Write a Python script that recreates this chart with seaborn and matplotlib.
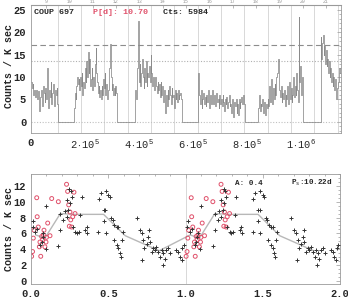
import matplotlib
matplotlib.use('Agg')
import numpy as np
import pandas as pd
import seaborn as sns
import matplotlib.pyplot as plt
from matplotlib.ticker import MultipleLocator

# Curva de luz: segmentos de observação (tempo em s, taxa em contagens / ksec)
seg_inicio = [0, 159300, 385200, 617500, 842000, 1073000]
seg_fim = [100000, 318500, 558200, 792700, 1008600, 1148000]
seg1 = [9.0, 7.5, 8.5, 6.0, 7.0, 5.5, 6.5, 7.2, 5.0, 6.8, 4.0, 2.5, 5.5, 7.0, 6.0, 3.5, 8.0, 6.5,
        4.5, 7.5, 5.0, 12.0, 6.0, 3.0, 7.0, 5.5, 9.0, 4.0, 6.5, 8.5, 5.0, 3.5, 7.0, 6.0, 7.5, 4.0]
seg2 = [3, 6.5, 5, 8, 10, 8.5, 9.5, 7, 10, 8, 11, 6, 9, 7.5, 12, 9, 13.5, 10, 15.5, 11, 14, 8,
        9.5, 12, 7, 10, 8, 13, 16.5, 11, 9, 6.5, 8, 5.5, 7, 5, 8, 6, 9.5, 7.5, 11, 6, 8.5, 5, 7, 9,
        12, 17.3, 10, 7, 8.5, 6, 7.5, 6, 8, 6.5]
seg3 = [7, 5, 10, 12, 22.5, 9, 13, 8, 11, 14, 10, 7.5, 12, 9, 13.5, 8, 11, 10, 12.5, 9, 15, 11, 8,
        10, 9.5, 7, 10, 8, 6.5, 9, 7, 8.5, 5.5, 9, 6, 8, 4.5, 7, 5, 2, 6, 3.5, 7, 5, 8, 6, 4, 7.5,
        5.5, 6, 3, 7, 5, 6.5, 4.5, 7, 5, 6, 6.5, 5]
seg4 = [11, 8, 6, 4, 7, 3, 5, 6.5, 4, 5.5, 3.5, 6, 4.5, 7, 5, 3, 6, 4, 5.5, 7, 4, 6, 3.5, 5, 6.5,
        4.5, 5, 3, 6, 4, 5, 3.5, 6, 4.5, 2.5, 5, 4, 5.5, 3, 4.5, 6, 3.5, 4, 2, 5, 3, 1, 4.5, 3.5, 5,
        2, 4, 1.5, 5, 3, 4.5, 5.5, 4, 6, 5, 4]
seg5 = [3, 6, 2.5, 4, 3.5, 5, 2, 4.5, 3, 1.5, 4, 3, 5, 3.5, 8, 4.5, 9.5, 6, 4, 7.5, 5, 8.5, 6, 10,
        11, 14, 9, 7, 5.5, 8, 4.5, 6.5, 5, 7, 3.5, 6, 5, 8, 4, 6.5, 9, 5, 7.5, 4.5, 6, 10, 5.5, 8,
        6, 11, 7, 4.5, 23.5, 9, 12.5, 6, 10, 5]
seg6 = [19, 14, 17.5, 19.5, 15, 17, 13, 16, 12.5, 14, 11, 13.5, 10, 12, 9, 11, 8, 10, 7, 9.5, 6,
        5, 7.5, 9, 10, 12, 11]
segmentos = [seg1, seg2, seg3, seg4, seg5, seg6]

# Limites dos dias (s) e rótulos do eixo superior
dias_linhas = [98900, 185300, 271700, 358100, 444500, 530900, 617300, 703700, 790100,
               876500, 962900, 1049300, 1135700]
dias_rotulos = ['9', '10', '11', '12', '13', '14', '15', '16', '17', '18', '19', '20', '21']

# Fase: pontos pretos (+) e vermelhos (o)
fase_preto = [0.01, 0.015, 0.026, 0.04, 0.08, 0.075, 0.06, 0.07, 0.10, 0.097,
              0.177, 0.19, 0.19, 0.22, 0.24, 0.23, 0.246, 0.257, 0.263, 0.25, 0.21, 0.23,
              0.27, 0.285, 0.296, 0.31, 0.33, 0.32, 0.35, 0.36, 0.365,
              0.436, 0.44, 0.45, 0.47, 0.48, 0.485, 0.50, 0.51, 0.485, 0.47, 0.52, 0.53,
              0.54, 0.555, 0.565, 0.537, 0.555, 0.565, 0.576, 0.58, 0.587, 0.593,
              0.684, 0.705, 0.716, 0.727, 0.733, 0.72, 0.75, 0.76, 0.766, 0.77, 0.78,
              0.79, 0.80, 0.81, 0.824, 0.835, 0.846, 0.857, 0.852, 0.867, 0.874, 0.889,
              0.90, 0.94, 0.954, 0.964, 0.975, 0.98, 0.99]
taxa_preto = [6.8, 7.5, 6.2, 6.6, 6.1, 5.5, 4.5, 4.9, 9.5, 4.0,
              4.4, 6.4, 8.4, 8.8, 9.0, 10.2, 11.6, 11.3, 10.6, 9.8, 7.7, 8.1,
              6.8, 6.2, 6.0, 6.2, 10.6, 8.3, 6.4, 6.8, 6.1,
              6.2, 10.4, 11.1, 9.0, 9.0, 11.4, 10.9, 10.6, 6.0, 7.6, 7.9, 7.7,
              7.1, 6.8, 6.8, 5.1, 4.5, 4.1, 3.5, 3.0, 5.2, 6.2,
              7.9, 6.4, 6.0, 5.2, 4.1, 2.6, 4.7, 5.6, 6.4, 4.9, 3.7,
              4.1, 3.9, 4.3, 3.7, 3.0, 3.9, 3.5, 2.0, 2.8, 3.9, 4.1,
              3.5, 3.9, 3.7, 3.0, 2.6, 4.1, 4.5]
fase_verm = [0.004, 0.01, 0.015, 0.02, 0.037, 0.04, 0.047, 0.054, 0.063, 0.058, 0.069,
             0.075, 0.08, 0.084, 0.09, 0.097, 0.10, 0.108, 0.123, 0.134, 0.177, 0.23,
             0.237, 0.244, 0.252, 0.257, 0.263, 0.27, 0.278, 0.285, 0.248]
taxa_verm = [3.1, 3.7, 5.4, 6.4, 10.5, 8.1, 6.8, 4.3, 3.1, 4.9, 5.6,
             5.2, 5.8, 6.4, 4.3, 4.9, 5.5, 7.3, 5.7, 10.4, 10.0, 12.2,
             11.3, 9.6, 8.7, 7.7, 6.8, 8.1, 11.2, 8.5, 6.9]
fase_media = [0.03, 0.09, 0.19, 0.28, 0.47, 0.61, 0.83]
taxa_media = [5.8, 5.4, 8.5, 8.4, 8.4, 5.7, 3.8]

sns.set_style('white')
plt.rcParams['font.family'] = ['Liberation Mono', 'DejaVu Sans Mono']
plt.rcParams['mathtext.fontset'] = 'custom'
plt.rcParams['mathtext.rm'] = 'Liberation Mono'
plt.rcParams['mathtext.it'] = 'Liberation Mono'

cinza_eixo = '#9a9a9a'
vermelho = '#e0506a'

# Montagem da curva em degraus, com lacunas em zero
tempo, taxa = [], []
for i, valores in enumerate(segmentos):
    bordas = np.linspace(seg_inicio[i], seg_fim[i], len(valores) + 1)
    tempo += list(bordas[:-1])
    taxa += list(valores)
    tempo.append(seg_fim[i])
    taxa.append(0.0 if i < len(segmentos) - 1 else valores[-1])
curva = pd.DataFrame({'tempo': tempo, 'taxa': taxa})

fig = plt.figure(figsize=(3.48, 2.99), dpi=100)
ax1 = fig.add_axes([31/348, (299-133)/299, 310/348, 128/299])
ax2 = fig.add_axes([31/348, (299-284)/299, 309/348, 110/299])

# Painel superior: curva de luz
for d in dias_linhas:
    ax1.axvline(d, color='#d2d2d2', lw=0.6, zorder=0)
ax1.axhline(17.2, color='#8c8c8c', lw=0.8, ls=(0, (5, 3)), zorder=1)
ax1.axhline(13.5, color='#b0b0b0', lw=0.8, ls=(0, (1, 1.5)), zorder=1)
ax1.axhline(0, color='#c0c0c0', lw=0.8, ls=(0, (1, 1.5)), zorder=1)
sns.lineplot(data=curva, x='tempo', y='taxa', drawstyle='steps-post', estimator=None,
             sort=False, color='#8a8a8a', lw=0.55, ax=ax1)
ax1.set_xlim(0, 1148000)
ax1.set_ylim(-2.5, 26.1)
ax1.set_xticks([0, 2e5, 4e5, 6e5, 8e5, 1e6])
ax1.set_xticklabels(['0', r'$2\cdot10^{5}$', r'$4\cdot10^{5}$', r'$6\cdot10^{5}$',
                     r'$8\cdot10^{5}$', r'$1\cdot10^{6}$'])
ax1.set_yticks([0, 5, 10, 15, 20, 25])
ax1.xaxis.set_minor_locator(MultipleLocator(5e4))
ax1.yaxis.set_minor_locator(MultipleLocator(1))
ax1.tick_params(which='both', direction='in', top=False, right=True, color=cinza_eixo,
                width=0.5, labelsize=7.5)
ax1.tick_params(which='major', length=3)
ax1.tick_params(which='minor', length=1.5)
sec = ax1.secondary_xaxis('top')
sec.set_xticks([d - 43200 for d in dias_linhas], dias_rotulos)
sec.tick_params(direction='in', length=2, width=0.5, color=cinza_eixo, pad=0.5,
                labelsize=3.5, labelcolor='#999999')
sec.spines['top'].set_color(cinza_eixo)
ax1.text(0.01, 0.945, 'COUP 697', transform=ax1.transAxes, fontsize=6, fontweight='bold',
         va='center')
ax1.text(0.2, 0.945, 'P[d]: 10.70', transform=ax1.transAxes, fontsize=6, fontweight='bold',
         va='center', color=vermelho)
ax1.text(0.426, 0.945, 'Cts: 5984', transform=ax1.transAxes, fontsize=6, fontweight='bold',
         va='center')

# Painel inferior: curva dobrada em fase (repetida em dois ciclos)
pretos = pd.DataFrame({'fase': fase_preto + [f + 1 for f in fase_preto],
                       'taxa': taxa_preto + taxa_preto})
verm = pd.DataFrame({'fase': fase_verm + [f + 1 for f in fase_verm],
                     'taxa': taxa_verm + taxa_verm})
media = pd.DataFrame({'fase': fase_media + [f + 1 for f in fase_media],
                      'taxa': taxa_media + taxa_media})
ax2.axvline(1.0, color='#d2d2d2', lw=0.6, zorder=0)
sns.lineplot(data=media, x='fase', y='taxa', estimator=None, sort=False,
             color='#b8b8b8', lw=1.0, ax=ax2, zorder=1)
sns.scatterplot(data=verm, x='fase', y='taxa', marker='o', s=8, facecolor='none',
                edgecolor=vermelho, linewidth=0.7, ax=ax2, zorder=2)
sns.scatterplot(data=pretos, x='fase', y='taxa', marker='+', s=9, color='#333333',
                linewidth=0.7, ax=ax2, zorder=3)
ax2.set_xlim(0, 2)
ax2.set_ylim(-0.4, 13.5)
ax2.set_xticks([0, 0.5, 1.0, 1.5, 2.0])
ax2.set_xticklabels(['0.0', '0.5', '1.0', '1.5', '2.0'])
ax2.set_yticks([0, 2, 4, 6, 8, 10, 12])
ax2.xaxis.set_minor_locator(MultipleLocator(0.1))
ax2.yaxis.set_minor_locator(MultipleLocator(0.5))
ax2.tick_params(which='both', direction='in', top=True, right=True, color=cinza_eixo,
                width=0.5, labelsize=7.5)
ax2.tick_params(which='major', length=3)
ax2.tick_params(which='minor', length=1.5)
ax2.text(0.66, 0.918, 'A: 0.4', transform=ax2.transAxes, fontsize=5.5, fontweight='bold',
         va='center')
ax2.text(0.841, 0.918, r'P$_s$:10.22d', transform=ax2.transAxes, fontsize=5.5,
         fontweight='bold', va='center')

for ax in (ax1, ax2):
    ax.set_xlabel('')
    ax.set_ylabel('')
    for lbl in ax.get_xticklabels() + ax.get_yticklabels():
        lbl.set_fontweight('bold')
    for s in ax.spines.values():
        s.set_color(cinza_eixo)
        s.set_linewidth(0.6)

fig.text(9/348, 1 - 66/299, 'Counts / K sec', rotation=90, ha='center', va='center',
         fontsize=7.2, fontweight='bold')
fig.text(9/348, 1 - 229/299, 'Counts / K sec', rotation=90, ha='center', va='center',
         fontsize=7.2, fontweight='bold')

fig.savefig('out.png', dpi=100)
